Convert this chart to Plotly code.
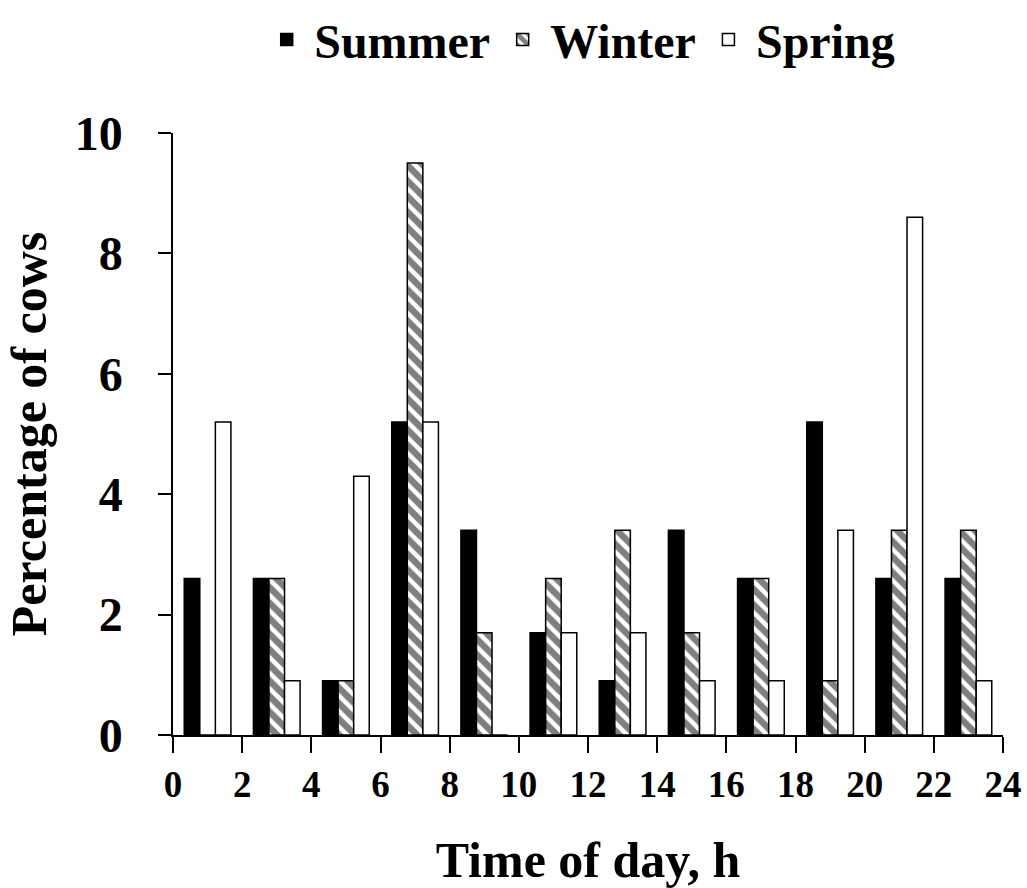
import plotly.graph_objects as go

# Two-hour bins, bars centred on the odd hours
hours = [1, 3, 5, 7, 9, 11, 13, 15, 17, 19, 21, 23]
summer = [2.6, 2.6, 0.9, 5.2, 3.4, 1.7, 0.9, 3.4, 2.6, 5.2, 2.6, 2.6]
winter = [0.0, 2.6, 0.9, 9.5, 1.7, 2.6, 3.4, 1.7, 2.6, 0.9, 3.4, 3.4]
spring = [5.2, 0.9, 4.3, 5.2, 0.0, 1.7, 1.7, 0.9, 0.9, 3.4, 8.6, 0.9]
x_ticks = [0, 2, 4, 6, 8, 10, 12, 14, 16, 18, 20, 22, 24]
y_ticks = [0, 2, 4, 6, 8, 10]

FONT = "Liberation Serif, Times New Roman, serif"
line = dict(color="black", width=1.5)

fig = go.Figure()
fig.add_trace(go.Bar(x=hours, y=summer, name="Summer",
                     marker=dict(color="black", line=line)))
fig.add_trace(go.Bar(x=hours, y=winter, name="Winter",
                     marker=dict(color="white", line=line,
                                 pattern=dict(shape="\\", fgcolor="black", bgcolor="white",
                                              size=11, solidity=0.6, fillmode="overlay"))))
fig.add_trace(go.Bar(x=hours, y=spring, name="Spring",
                     marker=dict(color="white", line=line)))

fig.update_layout(
    width=1027, height=888,
    margin=dict(l=173, r=24, t=133, b=153, autoexpand=False),
    paper_bgcolor="white", plot_bgcolor="white",
    barmode="group", bargap=0.325, bargroupgap=0,
    font=dict(family=FONT, color="black", weight="bold"),
    showlegend=True,
    legend=dict(orientation="h", x=0.49, xanchor="center", y=1.155, yanchor="middle",
                font=dict(family=FONT, size=48, color="black", weight="bold"),
                bgcolor="rgba(0,0,0,0)", traceorder="normal", itemwidth=45),
)
fig.update_xaxes(
    range=[0, 24], tickvals=x_ticks, ticktext=[str(v) for v in x_ticks],
    showline=True, linecolor="black", linewidth=1.5,
    ticks="outside", ticklen=16, tickwidth=1.5, tickcolor="black",
    showgrid=False, zeroline=False,
    tickfont=dict(family=FONT, size=37, color="black", weight="bold"),
    title=dict(text="Time of day, h", standoff=45,
               font=dict(family=FONT, size=50, color="black", weight="bold")),
)
fig.update_yaxes(
    range=[0, 10], tickvals=y_ticks, ticktext=[str(v) for v in y_ticks],
    showline=True, linecolor="black", linewidth=1.5,
    ticks="outside", ticklen=13, tickwidth=1.5, tickcolor="black",
    showgrid=False, zeroline=False, ticklabelstandoff=26,
    tickfont=dict(family=FONT, size=48, color="black", weight="bold"),
    title=dict(text="Percentage of cows", standoff=12,
               font=dict(family=FONT, size=50, color="black", weight="bold")),
)

fig.write_html("out.html")
